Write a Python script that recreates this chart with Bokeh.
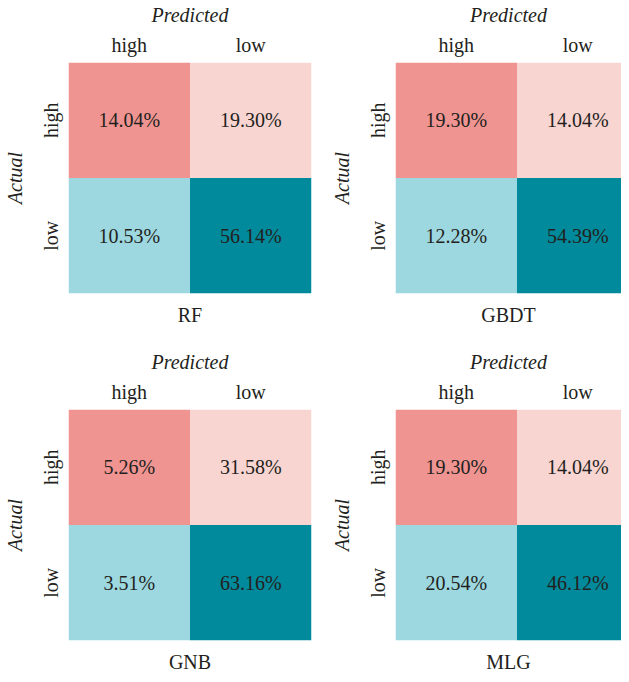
from bokeh.plotting import figure
from bokeh.models import ColumnDataSource, Range1d, FixedTicker, LinearAxis
from bokeh.layouts import gridplot
from bokeh.core.properties import value
from bokeh.embed import file_html
from bokeh.resources import INLINE

# ---- data ----
models = ["RF", "GBDT", "GNB", "MLG"]
class_labels = ["high", "low"]
# order: (actual high, pred high), (actual high, pred low), (actual low, pred high), (actual low, pred low)
rf_vals = [14.04, 19.30, 10.53, 56.14]
gbdt_vals = [19.30, 14.04, 12.28, 54.39]
gnb_vals = [5.26, 31.58, 3.51, 63.16]
mlg_vals = [19.30, 14.04, 20.54, 46.12]
all_vals = [rf_vals, gbdt_vals, gnb_vals, mlg_vals]

# ---- style ----
cell_colors = ["#F09491", "#F9D5D2", "#9DD7DF", "#008A9B"]
FONT = "'Liberation Serif', serif"
TXT = "#231F20"
FS = "20px"

LEFT_FRAME = 243
RIGHT_FRAME = 226
FRAME_H = 231


def style_axis(ax, italic=True):
    ax.axis_line_color = None
    ax.major_tick_line_color = None
    ax.minor_tick_line_color = None
    ax.major_label_text_font = FONT
    ax.major_label_text_font_size = FS
    ax.major_label_text_color = TXT
    ax.axis_label_text_font = FONT
    ax.axis_label_text_font_size = FS
    ax.axis_label_text_font_style = "italic" if italic else "normal"
    ax.axis_label_text_color = TXT


def make_panel(name, vals, col, row):
    frame_w = LEFT_FRAME if col == 0 else RIGHT_FRAME
    xend = 2.0 * frame_w / LEFT_FRAME
    n = len(class_labels)
    xs, ys, txt = [], [], []
    for i, actual in enumerate(class_labels):
        for j, pred in enumerate(class_labels):
            xs.append(j + 0.5)
            ys.append(n - i - 0.5)
            txt.append(f"{vals[i * n + j]:.2f}%")
    src = ColumnDataSource(dict(x=xs, y=ys, t=txt, c=cell_colors))
    p = figure(frame_width=frame_w, frame_height=FRAME_H, output_backend="svg",
               toolbar_location=None,
               x_range=Range1d(0, xend), y_range=Range1d(0, 2),
               x_axis_location="above",
               min_border_left=64,
               min_border_right=16 if col == 0 else 0,
               min_border_top=55, min_border_bottom=54 if row == 0 else 38)
    p.rect(x="x", y="y", width=1, height=1, fill_color="c", line_color=None, source=src)
    p.text(x="x", y="y", text="t", source=src, text_align="center", text_baseline="middle",
           text_font=value(FONT), text_font_size=FS, text_color=TXT)
    p.grid.visible = False
    p.outline_line_color = None
    style_axis(p.xaxis[0])
    style_axis(p.yaxis[0])
    p.xaxis[0].ticker = FixedTicker(ticks=[0.5, 1.5])
    p.xaxis[0].major_label_overrides = {0.5: class_labels[0], 1.5: class_labels[1]}
    p.xaxis[0].axis_label = "Predicted"
    p.xaxis[0].major_label_standoff = 1
    p.xaxis[0].axis_label_standoff = 5
    p.yaxis[0].ticker = FixedTicker(ticks=[0.5, 1.5])
    p.yaxis[0].major_label_overrides = {1.5: class_labels[0], 0.5: class_labels[1]}
    p.yaxis[0].axis_label = "Actual"
    p.yaxis[0].major_label_orientation = "vertical"
    p.yaxis[0].major_label_standoff = 1
    p.yaxis[0].axis_label_standoff = 11
    # model name under the matrix
    name_axis = LinearAxis(ticker=FixedTicker(ticks=[]), axis_label=name)
    style_axis(name_axis, italic=False)
    name_axis.major_label_text_font_size = "0px"
    name_axis.major_label_standoff = 0
    name_axis.axis_label_standoff = 10
    p.add_layout(name_axis, "below")
    return p


panels = [make_panel(m, v, k % 2, k // 2) for k, (m, v) in enumerate(zip(models, all_vals))]
grid = gridplot([[panels[0], panels[1]], [panels[2], panels[3]]], toolbar_location=None)

open("out.html", "w").write(file_html(grid, INLINE))
